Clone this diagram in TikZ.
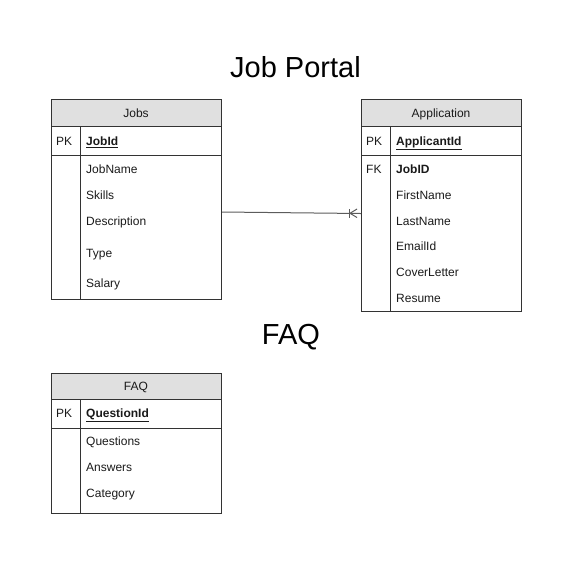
\documentclass[tikz,border=0pt]{standalone}
\usepackage{fontspec}
\setmainfont{Liberation Sans}
\definecolor{hdr}{HTML}{E0E0E0}
\definecolor{brd}{HTML}{333333}
\definecolor{txt}{HTML}{1A1A1A}
\begin{document}
\begin{tikzpicture}[x=1pt,y=-1pt,
  tbl/.style={draw=brd,line width=1pt,rectangle,inner sep=0pt},
  hdrbox/.style={draw=brd,line width=1pt,fill=hdr,inner sep=0pt},
  sep/.style={draw=brd,line width=1pt},
  fld/.style={anchor=base west,inner sep=0pt,text=txt,font=\fontsize{12}{14}\selectfont},
  hdrtxt/.style={anchor=base,inner sep=0pt,text=txt,font=\fontsize{12}{14}\selectfont},
  ttl/.style={anchor=base,inner sep=0pt,text=black,font=\fontsize{29}{33}\selectfont},
  conn/.style={draw=brd!80,line width=1pt}
]
\useasboundingbox (0,0) rectangle (572,566);

% Titles
\node[ttl] (t1) at (295.5,77) {Job Portal};
\node[ttl] (t2) at (291,344.5) {FAQ};

% ---------- Jobs ----------
\draw[hdrbox] (51,99) rectangle (221,126);
\node[tbl,minimum width=170pt,minimum height=200pt,anchor=north west] (jobs) at (51,99) {};
\draw[sep] (51,155.5) -- (221,155.5);
\draw[sep] (80.5,126) -- (80.5,299);
\node[hdrtxt] (jobsh) at (136,117.5) {Jobs};
\node[fld] (jpk) at (56,145.5) {PK};
\node[fld] (j1) at (86,145.5) {\underline{\textbf{JobId}}};
\node[fld] (j2) at (86,173.5) {JobName};
\node[fld] (j3) at (86,199.5) {Skills};
\node[fld] (j4) at (86,225.5) {Description};
\node[fld] (j5) at (86,257.5) {Type};
\node[fld] (j6) at (86,287.5) {Salary};

% ---------- Application ----------
\draw[hdrbox] (361,99) rectangle (521,126);
\node[tbl,minimum width=160pt,minimum height=212pt,anchor=north west] (app) at (361,99) {};
\draw[sep] (361,155.5) -- (521,155.5);
\draw[sep] (390.5,126) -- (390.5,311);
\node[hdrtxt] (apph) at (441,117.5) {Application};
\node[fld] (apk) at (366,145.5) {PK};
\node[fld] (afk) at (366,173.5) {FK};
\node[fld] (a1) at (396,145.5) {\underline{\textbf{ApplicantId}}};
\node[fld] (a2) at (396,173.5) {\textbf{JobID}};
\node[fld] (a3) at (396,199.5) {FirstName};
\node[fld] (a4) at (396,225.5) {LastName};
\node[fld] (a5) at (396,250.5) {EmailId};
\node[fld] (a6) at (396,276.5) {CoverLetter};
\node[fld] (a7) at (396,302.5) {Resume};

% ---------- FAQ ----------
\draw[hdrbox] (51,373) rectangle (221,399);
\node[tbl,minimum width=170pt,minimum height=140pt,anchor=north west] (faq) at (51,373) {};
\draw[sep] (51,428.5) -- (221,428.5);
\draw[sep] (80.5,399) -- (80.5,513);
\node[hdrtxt] (faqh) at (136,390.5) {FAQ};
\node[fld] (fpk) at (56,417.5) {PK};
\node[fld] (f1) at (86,417.5) {\underline{\textbf{QuestionId}}};
\node[fld] (f2) at (86,445.5) {Questions};
\node[fld] (f3) at (86,471.5) {Answers};
\node[fld] (f4) at (86,497.5) {Category};

% ---------- Connector ----------
\coordinate (cs) at (jobs.east |- 0,212);
\coordinate (ce) at (app.west |- 0,213.5);
\coordinate (cf) at (350,213.3);
\draw[conn] (cs) -- (ce);
\draw[conn] (cf) -- (357,209);
\draw[conn] (cf) -- (357,217.5);
\draw[conn] (349.5,209) -- (349.5,217.5);
\end{tikzpicture}
\end{document}
